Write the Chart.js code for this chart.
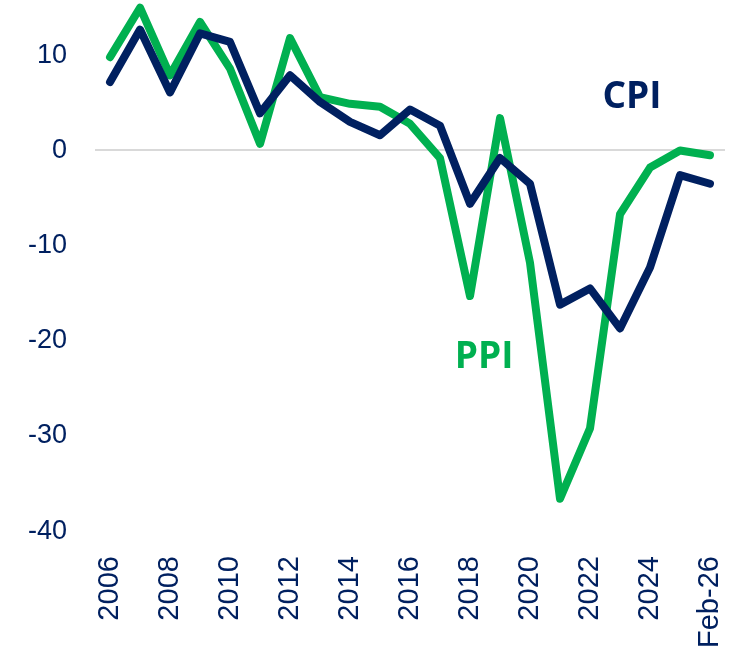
<!DOCTYPE html>
<html>
<head>
<meta charset="utf-8">
<script src="https://cdn.jsdelivr.net/npm/chart.js@4"></script>
<style>
  body { margin: 0; background: #fff; }
  #wrap { width: 740px; height: 651px; }
</style>
</head>
<body>
<div id="wrap"><canvas id="Chart"></canvas></div>
<script>
// Years on the x axis
var labels = ['2006', '2007', '2008', '2009', '2010', '2011', '2012', '2013', '2014', '2015',
              '2016', '2017', '2018', '2019', '2020', '2021', '2022', '2023', '2024', '2025', 'Feb-26'];

// Series values (% change)
var cpi = [7.2, 12.7, 6.1, 12.3, 11.4, 3.9, 7.9, 5.1, 3.0, 1.6,
           4.3, 2.6, -5.6, -0.8, -3.5, -16.2, -14.5, -18.7, -12.3, -2.6, -3.5];
var ppi = [9.8, 15.0, 7.9, 13.5, 8.6, 0.7, 11.8, 5.6, 4.9, 4.6,
           2.8, -0.8, -15.3, 3.4, -11.8, -36.6, -29.2, -6.7, -1.8, 0.0, -0.5];

// Y axis tick values
var yTicks = [-40, -30, -20, -10, 0, 10];

var navy = '#002060';
var green = '#00B050';

// Series names written next to the lines (x index, y value)
var seriesLabels = [
    { text: 'CPI', color: navy, x: 17.4, y: 5.6 },
    { text: 'PPI', color: green, x: 12.47, y: -21.7 }
];

var labelPlugin = {
    id: 'seriesLabels',
    afterDatasetsDraw: function (chart) {
        var ctx = chart.ctx;
        var xs = chart.scales.x, ys = chart.scales.y;
        ctx.save();
        ctx.font = 'bold 37px "Open Sans", sans-serif';
        ctx.textAlign = 'center';
        ctx.textBaseline = 'middle';
        seriesLabels.forEach(function (l) {
            ctx.fillStyle = l.color;
            ctx.fillText(l.text, xs.getPixelForValue(l.x), ys.getPixelForValue(l.y));
        });
        ctx.restore();
    }
};

var config = {
    type: 'line',
    data: {
        labels: labels,
        datasets: [
            { label: 'CPI', data: cpi, borderColor: navy, borderWidth: 8, pointRadius: 0,
              tension: 0, borderCapStyle: 'round', borderJoinStyle: 'round' },
            { label: 'PPI', data: ppi, borderColor: green, borderWidth: 8, pointRadius: 0,
              tension: 0, borderCapStyle: 'round', borderJoinStyle: 'round' }
        ]
    },
    options: {
        responsive: true,
        maintainAspectRatio: false,
        animation: false,
        layout: { padding: { top: 2, right: 15, left: 0, bottom: 3 } },
        plugins: {
            legend: { display: false },
            tooltip: { enabled: false }
        },
        scales: {
            x: {
                offset: true,
                grid: { display: false },
                border: { display: false },
                // drop the padding Chart.js reserves below the labels
                afterFit: function (axis) {
                    axis.paddingLeft = 0;
                    axis.paddingRight = 0;
                    axis.height -= 17;
                },
                ticks: {
                    autoSkip: false,
                    maxRotation: 90,
                    minRotation: 90,
                    padding: 17,
                    color: navy,
                    font: { family: 'Liberation Sans', size: 29 },
                    callback: function (v, i) { return i % 2 === 0 ? labels[i] : ''; }
                }
            },
            y: {
                min: -40,
                max: 15.6,
                border: { display: false },
                afterBuildTicks: function (axis) {
                    axis.ticks = yTicks.map(function (v) { return { value: v }; });
                },
                afterFit: function (axis) { axis.paddingTop = 0; axis.paddingBottom = 0; },
                grid: {
                    drawTicks: false,
                    lineWidth: 2,
                    color: function (c) { return c.tick && c.tick.value === 0 ? '#d9d9d9' : 'rgba(0,0,0,0)'; }
                },
                ticks: {
                    padding: 28,
                    color: navy,
                    font: { family: 'Liberation Sans', size: 27 }
                }
            }
        }
    },
    plugins: [labelPlugin]
};

var ctx = document.getElementById('Chart').getContext('2d');
var myChart = new Chart(ctx, config);
</script>
</body>
</html>
